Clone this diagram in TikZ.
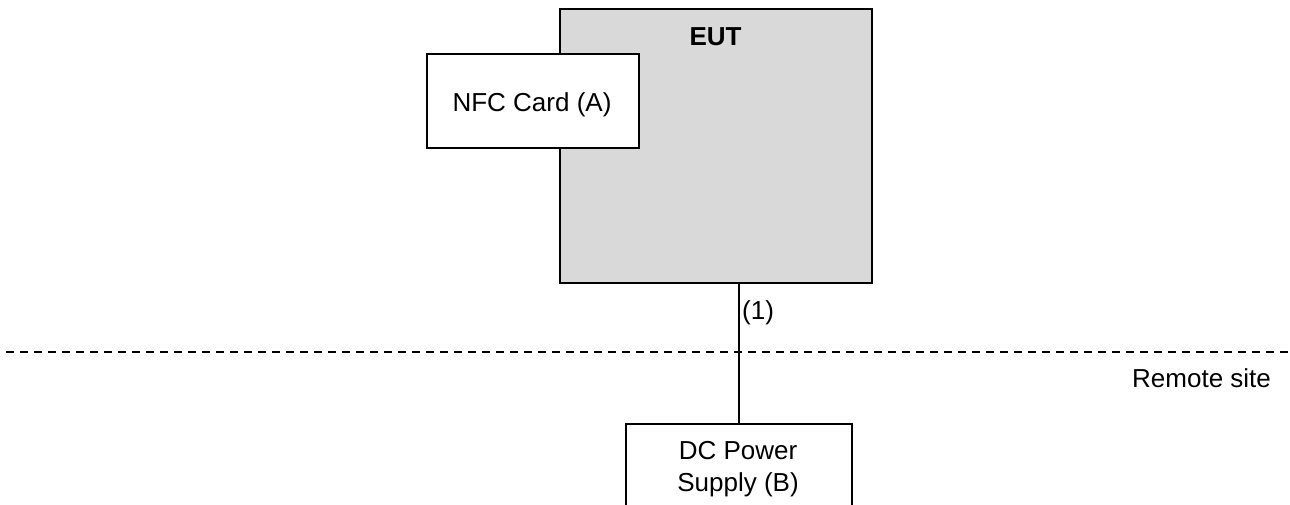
\documentclass[tikz,border=0pt]{standalone}
\usepackage{fontspec}
\setmainfont{Liberation Sans}
\definecolor{eutgray}{RGB}{217,217,217}
\begin{document}
\begin{tikzpicture}[x=1pt,y=-1pt,
  lbl/.style={font=\fontsize{26}{32}\selectfont, inner sep=0pt},
  box/.style={draw=black, line width=1.8pt, fill=white},
  wire/.style={draw=black, line width=1.8pt},
  sitesplit/.style={draw=black, line width=1.8pt, dash pattern=on 8pt off 6pt}]
\useasboundingbox (0,0) rectangle (1290,504);
\clip (0,0) rectangle (1290,504);
% equipment under test
\node[box, fill=eutgray, minimum width=312pt, minimum height=274pt, anchor=north west]
  (eut) at (559,8) {};
\node[lbl, font=\fontsize{26}{32}\selectfont\bfseries, anchor=base] (euttxt) at (715.5,45) {EUT};
% card held against the EUT
\node[box, minimum width=212pt, minimum height=94pt, anchor=north west]
  (nfc) at (426,53) {};
\node[lbl, anchor=base] (nfctxt) at (532,111) {NFC Card (A)};
% power supply at the remote site
\node[box, minimum width=226pt, minimum height=110pt, anchor=north west]
  (dc) at (625,423) {};
\node[lbl, align=center, anchor=north] (dctxt) at (738,441) {DC Power\\Supply (B)};
% boundary to the remote site
\coordinate (sepL) at (6,352);
\coordinate (sepR) at (1290,352);
\draw[sitesplit] (sepL) -- (sepR);
\node[lbl, anchor=base west] (remote) at (1132,387) {Remote site};
% cable (1)
\draw[wire] (dc.north) -- (dc.north |- eut.south);
\node[lbl, anchor=base west] (cable) at (742,319) {(1)};
\end{tikzpicture}
\end{document}
